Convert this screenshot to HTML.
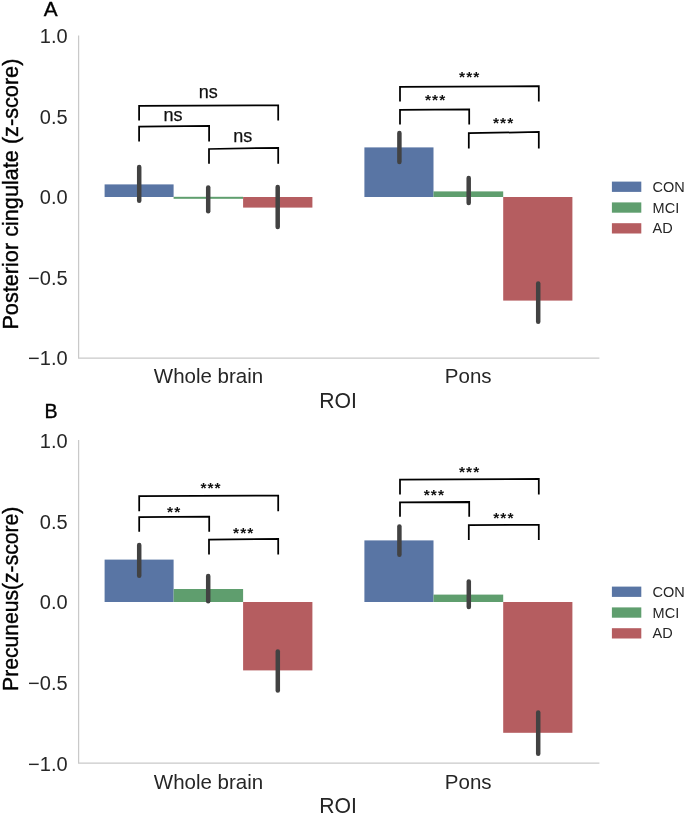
<!DOCTYPE html>
<html lang="en"><head><meta charset="utf-8"><title>Figure</title>
<style>
html,body{margin:0;padding:0;background:#fff;}
body{width:685px;height:815px;overflow:hidden;}
svg{display:block;}
text{font-family:"Liberation Sans",Arial,sans-serif;}
.tick{font-size:20px;fill:#262626;}
.cat{font-size:20.5px;fill:#262626;}
.leg{font-size:14.5px;fill:#262626;}
.sig{font-size:15.5px;font-weight:bold;letter-spacing:1.05px;fill:#111;}
.ns{font-size:18px;fill:#111;stroke:#111;stroke-width:0.25px;}
.pl{font-size:20.8px;fill:#000;stroke:#000;stroke-width:0.35px;}
.yl{font-size:21.5px;fill:#000;stroke:#000;stroke-width:0.4px;}
.br{fill:none;stroke:#000;stroke-width:1.75;stroke-linejoin:miter;stroke-linecap:butt;}
.eb{stroke:#424242;stroke-width:4.5;stroke-linecap:round;}
.ax{stroke:#c9c9c9;stroke-width:1.25;fill:none;}
</style></head><body>
<svg width="685" height="815" viewBox="0 0 685 815">
<rect width="685" height="815" fill="#fff"/>

<g>
<rect x="104.6" y="184.4" width="69.0" height="12.6" fill="#5975a4"/>
<rect x="173.6" y="196.8" width="69.5" height="2.0" fill="#5f9e6e"/>
<rect x="243.1" y="197.0" width="69.3" height="10.6" fill="#b55d60"/>
<rect x="364.4" y="147.4" width="69.1" height="49.6" fill="#5975a4"/>
<rect x="433.5" y="191.4" width="69.7" height="5.6" fill="#5f9e6e"/>
<rect x="503.2" y="197.0" width="69.2" height="103.6" fill="#b55d60"/>
</g>
<path class="ax" d="M78.6 35.5 V358 H599.4"/>
<line class="eb" x1="139.2" y1="167.0" x2="139.2" y2="200.7"/>
<line class="eb" x1="208.2" y1="187.4" x2="208.2" y2="211.3"/>
<line class="eb" x1="277.7" y1="187.0" x2="277.7" y2="227.1"/>
<line class="eb" x1="399.4" y1="133.0" x2="399.4" y2="162.1"/>
<line class="eb" x1="468.7" y1="178.0" x2="468.7" y2="203.1"/>
<line class="eb" x1="538.2" y1="283.6" x2="538.2" y2="321.7"/>
<path class="br" d="M139.1 120.6 V105.8 L278.2 105.3 V120.6"/>
<path class="br" d="M139.1 141.5 V126.7 L209.1 125.8 V141.5"/>
<path class="br" d="M209 163.8 V149.0 L278.2 147.8 V163.8"/>
<path class="br" d="M400 101.6 V86.8 L538.8 86.2 V101.6"/>
<path class="br" d="M400 124.6 V109.8 L469.2 109.4 V124.6"/>
<path class="br" d="M468.8 148.5 V133.2 L538.8 132.0 V148.5"/>
<text class="ns" x="208.3" y="98" text-anchor="middle">ns</text>
<text class="ns" x="173.1" y="121.2" text-anchor="middle">ns</text>
<text class="ns" x="242.8" y="142.2" text-anchor="middle">ns</text>
<text class="sig" x="469.7" y="81.6" text-anchor="middle">***</text>
<text class="sig" x="435.6" y="104.8" text-anchor="middle">***</text>
<text class="sig" x="503.6" y="128.2" text-anchor="middle">***</text>
<text class="tick" x="67.6" y="43.4" text-anchor="end">1.0</text>
<text class="tick" x="67.6" y="123.9" text-anchor="end">0.5</text>
<text class="tick" x="67.6" y="204.4" text-anchor="end">0.0</text>
<text class="tick" x="67.6" y="284.9" text-anchor="end">−0.5</text>
<text class="tick" x="67.6" y="365.4" text-anchor="end">−1.0</text>
<text class="cat" x="208.5" y="383.3" text-anchor="middle">Whole brain</text>
<text class="cat" x="468.2" y="383.3" text-anchor="middle">Pons</text>
<text class="cat" style="font-size:21.2px" x="338.1" y="408.2" text-anchor="middle">ROI</text>
<rect x="611.9" y="181.6" width="29.4" height="10.3" fill="#5975a4"/>
<text class="leg" x="652.6" y="191.8">CON</text>
<rect x="611.9" y="202.4" width="29.4" height="10.3" fill="#5f9e6e"/>
<text class="leg" x="652.6" y="212.6">MCI</text>
<rect x="611.9" y="223.2" width="29.4" height="10.3" fill="#b55d60"/>
<text class="leg" x="652.6" y="233.4">AD</text>
<text class="pl" style="font-size:20.8px" x="43.8" y="16.4">A</text>
<text class="yl" transform="translate(18,329.6) rotate(-90)" textLength="271.0" lengthAdjust="spacingAndGlyphs">Posterior cingulate (z-score)</text>
<g>
<rect x="104.6" y="559.6" width="69.0" height="42.4" fill="#5975a4"/>
<rect x="173.6" y="589.0" width="69.5" height="13.0" fill="#5f9e6e"/>
<rect x="243.1" y="602.0" width="69.3" height="68.4" fill="#b55d60"/>
<rect x="364.4" y="540.4" width="69.1" height="61.6" fill="#5975a4"/>
<rect x="433.5" y="594.6" width="69.7" height="7.4" fill="#5f9e6e"/>
<rect x="503.2" y="602.0" width="69.2" height="130.8" fill="#b55d60"/>
</g>
<path class="ax" d="M78.6 440.0 V763 H599.4"/>
<line class="eb" x1="139.2" y1="545.0" x2="139.2" y2="575.7"/>
<line class="eb" x1="208.2" y1="576.0" x2="208.2" y2="601.3"/>
<line class="eb" x1="277.8" y1="651.6" x2="277.8" y2="690.5"/>
<line class="eb" x1="399.4" y1="526.4" x2="399.4" y2="554.7"/>
<line class="eb" x1="468.8" y1="581.4" x2="468.8" y2="607.1"/>
<line class="eb" x1="538.2" y1="712.4" x2="538.2" y2="753.7"/>
<path class="br" d="M139.2 511.2 V496.2 L278.2 495.6 V511.2"/>
<path class="br" d="M139.2 531.8 V517.0 L209.2 516.6 V531.8"/>
<path class="br" d="M209 554.4 V539.6 L278.2 538.8 V554.4"/>
<path class="br" d="M400 494.4 V479.6 L538.8 479.0 V494.4"/>
<path class="br" d="M400 516.7 V502.4 L469.2 502.0 V516.7"/>
<path class="br" d="M468.8 540.0 V525.2 L538.8 524.8 V540.0"/>
<text class="sig" x="211.0" y="492.6" text-anchor="middle">***</text>
<text class="sig" x="174.2" y="516.6" text-anchor="middle">**</text>
<text class="sig" x="243.7" y="537.7" text-anchor="middle">***</text>
<text class="sig" x="469.6" y="476.7" text-anchor="middle">***</text>
<text class="sig" x="434.4" y="500.1" text-anchor="middle">***</text>
<text class="sig" x="503.9" y="523.3" text-anchor="middle">***</text>
<text class="tick" x="67.6" y="448.1" text-anchor="end">1.0</text>
<text class="tick" x="67.6" y="528.8" text-anchor="end">0.5</text>
<text class="tick" x="67.6" y="609.4" text-anchor="end">0.0</text>
<text class="tick" x="67.6" y="690.0" text-anchor="end">−0.5</text>
<text class="tick" x="67.6" y="770.6" text-anchor="end">−1.0</text>
<text class="cat" x="208.5" y="789.2" text-anchor="middle">Whole brain</text>
<text class="cat" x="468.2" y="789.2" text-anchor="middle">Pons</text>
<text class="cat" style="font-size:21.2px" x="338.1" y="813.2" text-anchor="middle">ROI</text>
<rect x="611.9" y="586.6" width="29.4" height="10.3" fill="#5975a4"/>
<text class="leg" x="652.6" y="596.8">CON</text>
<rect x="611.9" y="607.4" width="29.4" height="10.3" fill="#5f9e6e"/>
<text class="leg" x="652.6" y="617.6">MCI</text>
<rect x="611.9" y="628.2" width="29.4" height="10.3" fill="#b55d60"/>
<text class="leg" x="652.6" y="638.4">AD</text>
<text class="pl" style="font-size:19.6px" x="44.6" y="418.4">B</text>
<text class="yl" transform="translate(18,690.9) rotate(-90)" textLength="184.2" lengthAdjust="spacingAndGlyphs">Precuneus(z-score)</text>
</svg></body></html>
